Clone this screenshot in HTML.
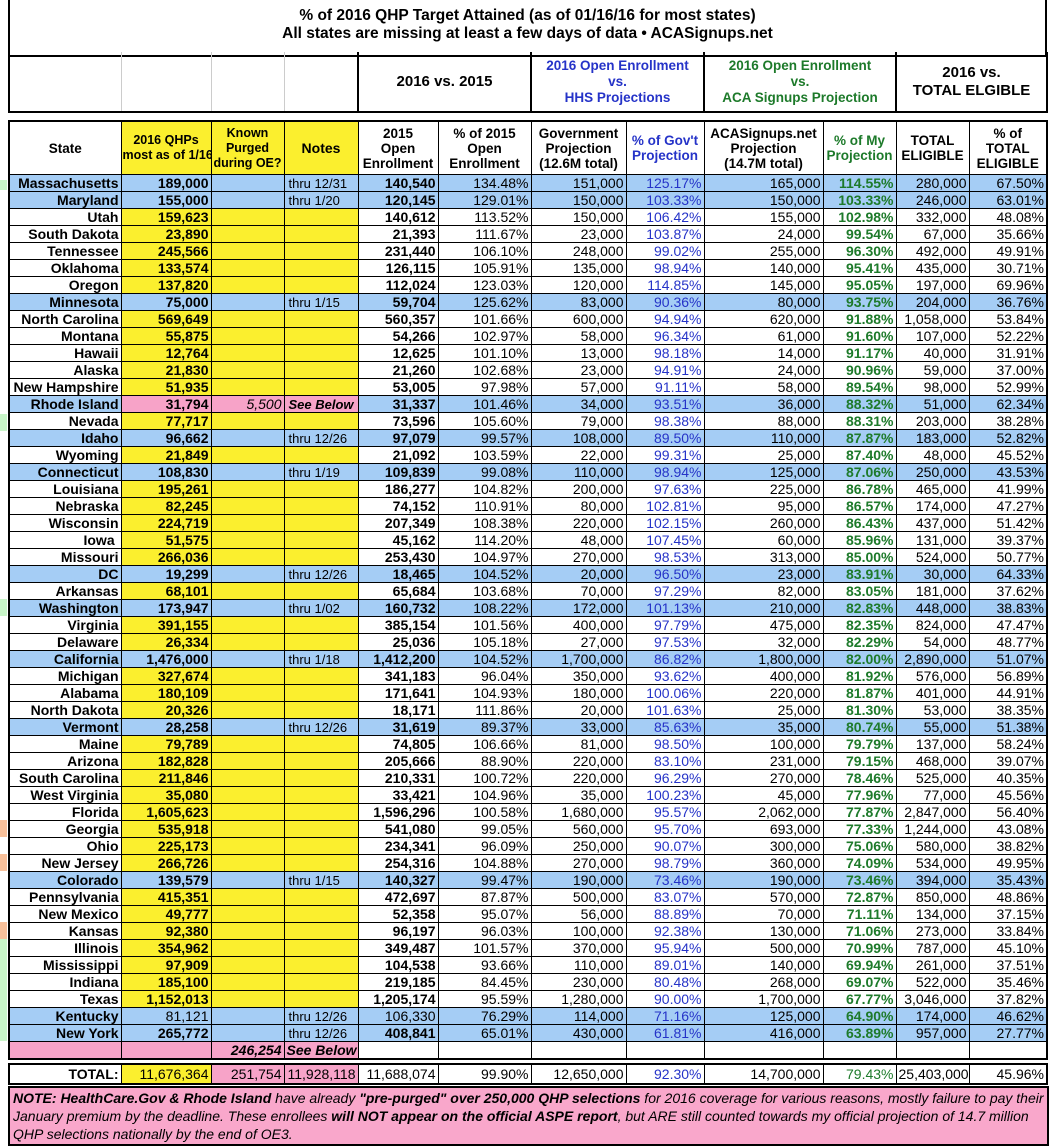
<!DOCTYPE html>
<html><head><meta charset="utf-8"><style>
body{margin:0;width:1050px;height:1147px;background:#fff;font-family:"Liberation Sans",Arial,sans-serif;position:relative;overflow:hidden}
.abs{position:absolute}
table{border-collapse:collapse;table-layout:fixed}
td{border:1px solid #000;padding:0 2px;text-align:right;white-space:nowrap;overflow:hidden;font-size:14px;line-height:15px;height:16px}
#main tr.r td:nth-child(1),#main tr.r td:nth-child(2),#main tr.r td:nth-child(5),#main tr.r td:nth-child(10){font-weight:bold}
#main tr.r td:nth-child(8){color:#2533c8}
#main tr.r td:nth-child(10){color:#1d7a2a}
#main tr.r td:nth-child(4){text-align:left;font-size:13px;padding-left:4px}
#main tr.r:not(.b) td:nth-child(2),#main tr.r:not(.b) td:nth-child(3),#main tr.r:not(.b) td:nth-child(4){background:#fbef2e}
#main tr.b td{background:#a5cdf5}
#main tr.b td.p{background:#f7a3c8}
#main tr.h td{text-align:center;font-weight:bold;font-size:13.5px;line-height:15px;height:52px;vertical-align:middle;padding:0 1px}
#main tr.h td.y{background:#fbef2e}
.nar td{font-family:"Liberation Sans Narrow","Liberation Sans",sans-serif}
</style></head><body>
<div class="abs" style="left:0;top:180px;width:7px;height:10px;background:#c8f5c8"></div>
<div class="abs" style="left:0;top:414px;width:7px;height:17px;background:#c8f5c8"></div>
<div class="abs" style="left:0;top:599px;width:7px;height:17px;background:#c8f5c8"></div>
<div class="abs" style="left:0;top:820px;width:7px;height:17px;background:#f8c09a"></div>
<div class="abs" style="left:0;top:854px;width:7px;height:17px;background:#f8c09a"></div>
<div class="abs" style="left:0;top:922px;width:7px;height:17px;background:#f8c09a"></div>
<div class="abs" style="left:0;top:939px;width:7px;height:102px;background:#c8f5c8"></div>

<div class="abs" style="left:8px;top:-3px;width:1035px;height:48px;border:2px solid #000;border-top:none;text-align:center;font-weight:bold;font-size:15.5px;line-height:18px;padding-top:10px;box-sizing:content-box">% of 2016 QHP Target Attained (as of 01/16/16 for most states)<br>All states are missing at least a few days of data • ACASignups.net</div>

<table class="abs" style="left:8px;top:52px;width:1038px">
<colgroup><col style="width:112px"><col style="width:90px"><col style="width:73px"><col style="width:74px"><col style="width:173px"><col style="width:173px"><col style="width:192px"><col style="width:151px"></colgroup>
<tr style="height:60px"><td style="border:none;border-left:2px solid #000;border-right:1px solid #ccc;border-bottom:2px solid #000"></td><td style="border:none;border-right:1px solid #ccc;border-bottom:2px solid #000"></td><td style="border:none;border-right:1px solid #ccc;border-bottom:2px solid #000"></td><td style="border:none;border-bottom:2px solid #000"></td>
<td style="border:2px solid #000;border-top:none;text-align:center;font-weight:bold;font-size:15px">2016 vs. 2015</td>
<td style="border:2px solid #000;border-top:none;text-align:center;font-weight:bold;font-size:13.5px;line-height:16px;color:#2533c8">2016 Open Enrollment<br>vs.<br>HHS Projections</td>
<td style="border:2px solid #000;border-top:none;text-align:center;font-weight:bold;font-size:13.5px;line-height:16px;color:#1d7a2a">2016 Open Enrollment<br>vs.<br>ACA Signups Projection</td>
<td style="border:2px solid #000;border-top:none;text-align:center;font-weight:bold;font-size:15px;line-height:18px">2016 vs.<br>TOTAL ELGIBLE</td></tr>
</table>

<table id="main" class="abs" style="left:8px;top:120px;width:1038px;border:2px solid #000">
<colgroup><col style="width:112px"><col style="width:90px"><col style="width:73px"><col style="width:74px"><col style="width:80px"><col style="width:93px"><col style="width:95px"><col style="width:78px"><col style="width:119px"><col style="width:73px"><col style="width:73px"><col style="width:78px"></colgroup>
<tr class="h"><td>State</td><td class="y" style="font-size:12.5px">2016 QHPs<br>most as of 1/16</td><td class="y" style="font-size:12.5px">Known<br>Purged<br>during OE?</td><td class="y" style="font-size:14px">Notes</td><td>2015<br>Open<br>Enrollment</td><td>% of 2015<br>Open<br>Enrollment</td><td>Government<br>Projection<br>(12.6M total)</td><td style="color:#2533c8">% of Gov't<br>Projection</td><td>ACASignups.net<br>Projection<br>(14.7M total)</td><td style="color:#1d7a2a">% of My<br>Projection</td><td>TOTAL<br>ELIGIBLE</td><td>% of<br>TOTAL<br>ELIGIBLE</td></tr>
<tr class="r b"><td>Massachusetts</td><td>189,000</td><td></td><td>thru 12/31</td><td>140,540</td><td>134.48%</td><td>151,000</td><td>125.17%</td><td>165,000</td><td>114.55%</td><td>280,000</td><td>67.50%</td></tr>
<tr class="r b"><td>Maryland</td><td>155,000</td><td></td><td>thru 1/20</td><td>120,145</td><td>129.01%</td><td>150,000</td><td>103.33%</td><td>150,000</td><td>103.33%</td><td>246,000</td><td>63.01%</td></tr>
<tr class="r"><td>Utah</td><td>159,623</td><td></td><td></td><td>140,612</td><td>113.52%</td><td>150,000</td><td>106.42%</td><td>155,000</td><td>102.98%</td><td>332,000</td><td>48.08%</td></tr>
<tr class="r"><td>South Dakota</td><td>23,890</td><td></td><td></td><td>21,393</td><td>111.67%</td><td>23,000</td><td>103.87%</td><td>24,000</td><td>99.54%</td><td>67,000</td><td>35.66%</td></tr>
<tr class="r"><td>Tennessee</td><td>245,566</td><td></td><td></td><td>231,440</td><td>106.10%</td><td>248,000</td><td>99.02%</td><td>255,000</td><td>96.30%</td><td>492,000</td><td>49.91%</td></tr>
<tr class="r"><td>Oklahoma</td><td>133,574</td><td></td><td></td><td>126,115</td><td>105.91%</td><td>135,000</td><td>98.94%</td><td>140,000</td><td>95.41%</td><td>435,000</td><td>30.71%</td></tr>
<tr class="r"><td>Oregon</td><td>137,820</td><td></td><td></td><td>112,024</td><td>123.03%</td><td>120,000</td><td>114.85%</td><td>145,000</td><td>95.05%</td><td>197,000</td><td>69.96%</td></tr>
<tr class="r b"><td>Minnesota</td><td>75,000</td><td></td><td>thru 1/15</td><td>59,704</td><td>125.62%</td><td>83,000</td><td>90.36%</td><td>80,000</td><td>93.75%</td><td>204,000</td><td>36.76%</td></tr>
<tr class="r"><td>North Carolina</td><td>569,649</td><td></td><td></td><td>560,357</td><td>101.66%</td><td>600,000</td><td>94.94%</td><td>620,000</td><td>91.88%</td><td>1,058,000</td><td>53.84%</td></tr>
<tr class="r"><td>Montana</td><td>55,875</td><td></td><td></td><td>54,266</td><td>102.97%</td><td>58,000</td><td>96.34%</td><td>61,000</td><td>91.60%</td><td>107,000</td><td>52.22%</td></tr>
<tr class="r"><td>Hawaii</td><td>12,764</td><td></td><td></td><td>12,625</td><td>101.10%</td><td>13,000</td><td>98.18%</td><td>14,000</td><td>91.17%</td><td>40,000</td><td>31.91%</td></tr>
<tr class="r"><td>Alaska</td><td>21,830</td><td></td><td></td><td>21,260</td><td>102.68%</td><td>23,000</td><td>94.91%</td><td>24,000</td><td>90.96%</td><td>59,000</td><td>37.00%</td></tr>
<tr class="r"><td>New Hampshire</td><td>51,935</td><td></td><td></td><td>53,005</td><td>97.98%</td><td>57,000</td><td>91.11%</td><td>58,000</td><td>89.54%</td><td>98,000</td><td>52.99%</td></tr>
<tr class="r b"><td>Rhode Island</td><td class="p">31,794</td><td class="p" style="font-style:italic">5,500</td><td class="p" style="font-style:italic;font-weight:bold">See Below</td><td>31,337</td><td>101.46%</td><td>34,000</td><td>93.51%</td><td>36,000</td><td>88.32%</td><td>51,000</td><td>62.34%</td></tr>
<tr class="r"><td>Nevada</td><td>77,717</td><td></td><td></td><td>73,596</td><td>105.60%</td><td>79,000</td><td>98.38%</td><td>88,000</td><td>88.31%</td><td>203,000</td><td>38.28%</td></tr>
<tr class="r b"><td>Idaho</td><td>96,662</td><td></td><td>thru 12/26</td><td>97,079</td><td>99.57%</td><td>108,000</td><td>89.50%</td><td>110,000</td><td>87.87%</td><td>183,000</td><td>52.82%</td></tr>
<tr class="r"><td>Wyoming</td><td>21,849</td><td></td><td></td><td>21,092</td><td>103.59%</td><td>22,000</td><td>99.31%</td><td>25,000</td><td>87.40%</td><td>48,000</td><td>45.52%</td></tr>
<tr class="r b"><td>Connecticut</td><td>108,830</td><td></td><td>thru 1/19</td><td>109,839</td><td>99.08%</td><td>110,000</td><td>98.94%</td><td>125,000</td><td>87.06%</td><td>250,000</td><td>43.53%</td></tr>
<tr class="r"><td>Louisiana</td><td>195,261</td><td></td><td></td><td>186,277</td><td>104.82%</td><td>200,000</td><td>97.63%</td><td>225,000</td><td>86.78%</td><td>465,000</td><td>41.99%</td></tr>
<tr class="r"><td>Nebraska</td><td>82,245</td><td></td><td></td><td>74,152</td><td>110.91%</td><td>80,000</td><td>102.81%</td><td>95,000</td><td>86.57%</td><td>174,000</td><td>47.27%</td></tr>
<tr class="r"><td>Wisconsin</td><td>224,719</td><td></td><td></td><td>207,349</td><td>108.38%</td><td>220,000</td><td>102.15%</td><td>260,000</td><td>86.43%</td><td>437,000</td><td>51.42%</td></tr>
<tr class="r"><td>Iowa&nbsp;</td><td>51,575</td><td></td><td></td><td>45,162</td><td>114.20%</td><td>48,000</td><td>107.45%</td><td>60,000</td><td>85.96%</td><td>131,000</td><td>39.37%</td></tr>
<tr class="r"><td>Missouri</td><td>266,036</td><td></td><td></td><td>253,430</td><td>104.97%</td><td>270,000</td><td>98.53%</td><td>313,000</td><td>85.00%</td><td>524,000</td><td>50.77%</td></tr>
<tr class="r b"><td>DC</td><td>19,299</td><td></td><td>thru 12/26</td><td>18,465</td><td>104.52%</td><td>20,000</td><td>96.50%</td><td>23,000</td><td>83.91%</td><td>30,000</td><td>64.33%</td></tr>
<tr class="r"><td>Arkansas</td><td>68,101</td><td></td><td></td><td>65,684</td><td>103.68%</td><td>70,000</td><td>97.29%</td><td>82,000</td><td>83.05%</td><td>181,000</td><td>37.62%</td></tr>
<tr class="r b"><td>Washington</td><td>173,947</td><td></td><td>thru 1/02</td><td>160,732</td><td>108.22%</td><td>172,000</td><td>101.13%</td><td>210,000</td><td>82.83%</td><td>448,000</td><td>38.83%</td></tr>
<tr class="r"><td>Virginia</td><td>391,155</td><td></td><td></td><td>385,154</td><td>101.56%</td><td>400,000</td><td>97.79%</td><td>475,000</td><td>82.35%</td><td>824,000</td><td>47.47%</td></tr>
<tr class="r"><td>Delaware</td><td>26,334</td><td></td><td></td><td>25,036</td><td>105.18%</td><td>27,000</td><td>97.53%</td><td>32,000</td><td>82.29%</td><td>54,000</td><td>48.77%</td></tr>
<tr class="r b"><td>California</td><td>1,476,000</td><td></td><td>thru 1/18</td><td>1,412,200</td><td>104.52%</td><td>1,700,000</td><td>86.82%</td><td>1,800,000</td><td>82.00%</td><td>2,890,000</td><td>51.07%</td></tr>
<tr class="r"><td>Michigan</td><td>327,674</td><td></td><td></td><td>341,183</td><td>96.04%</td><td>350,000</td><td>93.62%</td><td>400,000</td><td>81.92%</td><td>576,000</td><td>56.89%</td></tr>
<tr class="r"><td>Alabama</td><td>180,109</td><td></td><td></td><td>171,641</td><td>104.93%</td><td>180,000</td><td>100.06%</td><td>220,000</td><td>81.87%</td><td>401,000</td><td>44.91%</td></tr>
<tr class="r"><td>North Dakota</td><td>20,326</td><td></td><td></td><td>18,171</td><td>111.86%</td><td>20,000</td><td>101.63%</td><td>25,000</td><td>81.30%</td><td>53,000</td><td>38.35%</td></tr>
<tr class="r b"><td>Vermont</td><td>28,258</td><td></td><td>thru 12/26</td><td>31,619</td><td>89.37%</td><td>33,000</td><td>85.63%</td><td>35,000</td><td>80.74%</td><td>55,000</td><td>51.38%</td></tr>
<tr class="r"><td>Maine</td><td>79,789</td><td></td><td></td><td>74,805</td><td>106.66%</td><td>81,000</td><td>98.50%</td><td>100,000</td><td>79.79%</td><td>137,000</td><td>58.24%</td></tr>
<tr class="r"><td>Arizona</td><td>182,828</td><td></td><td></td><td>205,666</td><td>88.90%</td><td>220,000</td><td>83.10%</td><td>231,000</td><td>79.15%</td><td>468,000</td><td>39.07%</td></tr>
<tr class="r"><td>South Carolina</td><td>211,846</td><td></td><td></td><td>210,331</td><td>100.72%</td><td>220,000</td><td>96.29%</td><td>270,000</td><td>78.46%</td><td>525,000</td><td>40.35%</td></tr>
<tr class="r"><td>West Virginia</td><td>35,080</td><td></td><td></td><td>33,421</td><td>104.96%</td><td>35,000</td><td>100.23%</td><td>45,000</td><td>77.96%</td><td>77,000</td><td>45.56%</td></tr>
<tr class="r"><td>Florida</td><td>1,605,623</td><td></td><td></td><td>1,596,296</td><td>100.58%</td><td>1,680,000</td><td>95.57%</td><td>2,062,000</td><td>77.87%</td><td>2,847,000</td><td>56.40%</td></tr>
<tr class="r"><td>Georgia</td><td>535,918</td><td></td><td></td><td>541,080</td><td>99.05%</td><td>560,000</td><td>95.70%</td><td>693,000</td><td>77.33%</td><td>1,244,000</td><td>43.08%</td></tr>
<tr class="r"><td>Ohio</td><td>225,173</td><td></td><td></td><td>234,341</td><td>96.09%</td><td>250,000</td><td>90.07%</td><td>300,000</td><td>75.06%</td><td>580,000</td><td>38.82%</td></tr>
<tr class="r"><td>New Jersey</td><td>266,726</td><td></td><td></td><td>254,316</td><td>104.88%</td><td>270,000</td><td>98.79%</td><td>360,000</td><td>74.09%</td><td>534,000</td><td>49.95%</td></tr>
<tr class="r b"><td>Colorado</td><td>139,579</td><td></td><td>thru 1/15</td><td>140,327</td><td>99.47%</td><td>190,000</td><td>73.46%</td><td>190,000</td><td>73.46%</td><td>394,000</td><td>35.43%</td></tr>
<tr class="r"><td>Pennsylvania</td><td>415,351</td><td></td><td></td><td>472,697</td><td>87.87%</td><td>500,000</td><td>83.07%</td><td>570,000</td><td>72.87%</td><td>850,000</td><td>48.86%</td></tr>
<tr class="r"><td>New Mexico</td><td>49,777</td><td></td><td></td><td>52,358</td><td>95.07%</td><td>56,000</td><td>88.89%</td><td>70,000</td><td>71.11%</td><td>134,000</td><td>37.15%</td></tr>
<tr class="r"><td>Kansas</td><td>92,380</td><td></td><td></td><td>96,197</td><td>96.03%</td><td>100,000</td><td>92.38%</td><td>130,000</td><td>71.06%</td><td>273,000</td><td>33.84%</td></tr>
<tr class="r"><td>Illinois</td><td>354,962</td><td></td><td></td><td>349,487</td><td>101.57%</td><td>370,000</td><td>95.94%</td><td>500,000</td><td>70.99%</td><td>787,000</td><td>45.10%</td></tr>
<tr class="r"><td>Mississippi</td><td>97,909</td><td></td><td></td><td>104,538</td><td>93.66%</td><td>110,000</td><td>89.01%</td><td>140,000</td><td>69.94%</td><td>261,000</td><td>37.51%</td></tr>
<tr class="r"><td>Indiana</td><td>185,100</td><td></td><td></td><td>219,185</td><td>84.45%</td><td>230,000</td><td>80.48%</td><td>268,000</td><td>69.07%</td><td>522,000</td><td>35.46%</td></tr>
<tr class="r"><td>Texas</td><td>1,152,013</td><td></td><td></td><td>1,205,174</td><td>95.59%</td><td>1,280,000</td><td>90.00%</td><td>1,700,000</td><td>67.77%</td><td>3,046,000</td><td>37.82%</td></tr>
<tr class="r b nar"><td>Kentucky</td><td style="font-weight:normal">81,121</td><td></td><td>thru 12/26</td><td style="font-weight:normal">106,330</td><td>76.29%</td><td>114,000</td><td>71.16%</td><td>125,000</td><td>64.90%</td><td>174,000</td><td>46.62%</td></tr>
<tr class="r b nar"><td>New York</td><td>265,772</td><td></td><td>thru 12/26</td><td>408,841</td><td>65.01%</td><td>430,000</td><td>61.81%</td><td>416,000</td><td>63.89%</td><td>957,000</td><td>27.77%</td></tr>
<tr class="nar"><td style="background:#f7a3c8"></td><td style="background:#f7a3c8"></td><td style="background:#f7a3c8;font-weight:bold;font-style:italic">246,254</td><td style="background:#f7a3c8;font-weight:bold;font-style:italic;text-align:left">See Below</td><td></td><td></td><td></td><td></td><td></td><td></td><td></td><td></td></tr>
</table>

<table class="abs nar" style="left:8px;top:1063px;width:1038px;border:2px solid #000">
<colgroup><col style="width:112px"><col style="width:90px"><col style="width:73px"><col style="width:74px"><col style="width:80px"><col style="width:93px"><col style="width:95px"><col style="width:78px"><col style="width:119px"><col style="width:73px"><col style="width:73px"><col style="width:78px"></colgroup>
<tr><td style="font-weight:bold;height:18px">TOTAL:</td><td style="background:#fbef2e">11,676,364</td><td style="background:#f7a3c8">251,754</td><td style="background:#f7a3c8">11,928,118</td><td>11,688,074</td><td>99.90%</td><td>12,650,000</td><td style="color:#2533c8">92.30%</td><td>14,700,000</td><td style="color:#1d7a2a">79.43%</td><td>25,403,000</td><td>45.96%</td></tr>
</table>

<div class="abs" style="left:8px;top:1086px;width:1034px;height:55px;border:2px solid #000;background:#f9a7cb;font-style:italic;font-size:14px;line-height:18px;padding:1px 0 0 3px;white-space:nowrap;overflow:hidden;font-family:'Liberation Sans Narrow','Liberation Sans',sans-serif"><b>NOTE: HealthCare.Gov &amp; Rhode Island</b> have already <b>"pre-purged" over 250,000 QHP selections</b> for 2016 coverage for various reasons, mostly failure to pay their<br>January premium by the deadline. These enrollees <b>will NOT appear on the official ASPE report</b>, but ARE still counted towards my official projection of 14.7 million<br>QHP selections nationally by the end of OE3.</div>
</body></html>
